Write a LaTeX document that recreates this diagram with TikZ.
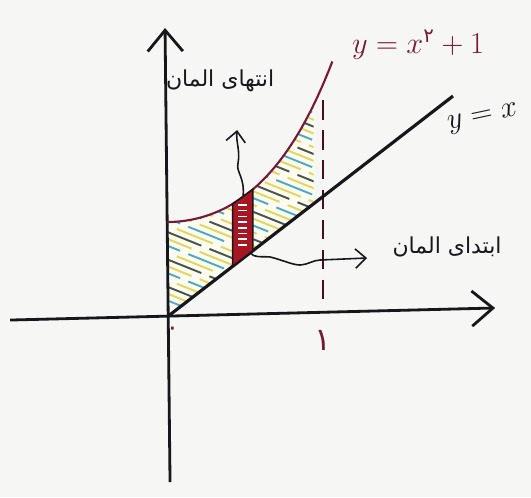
\documentclass[tikz,border=0pt]{standalone}
\usepackage{amsmath}
\usepackage{fontspec}
\usetikzlibrary{arrows.meta, calc}
\newfontfamily\persianfont[Script=Arabic]{DejaVu Sans}
\TeXXeTstate=1
\definecolor{paper}{RGB}{246,246,244}
\definecolor{inkblack}{RGB}{22,22,28}
\definecolor{curvemaroon}{RGB}{118,24,56}
\definecolor{stripred}{RGB}{168,22,36}
\definecolor{hatchyellow}{RGB}{226,214,96}
\definecolor{hatchteal}{RGB}{78,170,192}
\definecolor{hatchgray}{RGB}{72,84,74}

\tikzset{
    declare function={f(\x)=1+\x*\x+0.45*\x^4; g(\x)=1.27*\x;},
    axis/.style={inkblack, line width=1.6pt, -{Straight Barb[length=12pt,width=20pt]}},
    pointer/.style={inkblack, line width=0.9pt, -{Straight Barb[length=6pt,width=11pt]}},
    persian/.style={font=\persianfont\fontsize{12.5}{14}\selectfont, text=inkblack},
    marklabel/.style={font=\persianfont\fontsize{18}{20}\selectfont, text=curvemaroon}
}

\begin{document}
\begin{tikzpicture}[x=3.12cm, y=1.9cm]
    \fill[paper] (-1.071,-1.895) rectangle (2.333,3.337);
    \useasboundingbox (-1.071,-1.895) rectangle (2.333,3.337);

    \coordinate (O) at (0,0);
    \coordinate (xStart) at (-1.006,-0.032);
    \coordinate (xEnd) at (2.103,0.095);
    \coordinate (yStart) at (0.019,-1.737);
    \coordinate (yEnd) at (-0.013,3.042);
    \coordinate (lineEnd) at (1.833,2.326);
    \coordinate (dashTop) at (1,2.28);
    \coordinate (dashBot) at (1,0.09);

    % Hatched area between the curves
    \begin{scope}
        \clip plot[domain=0:0.94, samples=40] (\x,{f(\x)}) -- (0.94,{g(0.94)}) -- (O) -- cycle;
        \fill[hatchyellow!10] (0,0) rectangle (1,3);
        \foreach \k in {0,...,12} {
            \foreach \col [count=\j] in {hatchyellow,hatchteal,hatchyellow,hatchgray} {
                \pgfmathsetmacro\yy{3.2-(\k*4+\j)*0.072}
                \draw[\col, line width=1.1pt, dash pattern=on 22pt off 5pt, dash phase=\j*7pt] (0,\yy) -- ++(1,-0.66);
            }
        }
    \end{scope}

    % Axes
    \draw[axis] (xStart) -- (xEnd);
    \draw[axis] (yStart) -- (yEnd);

    % x = 1
    \draw[curvemaroon!60!black, line width=1.1pt, dash pattern=on 11pt off 6pt] (dashTop) -- (dashBot);

    % y = x and y = x^2 + 1
    \draw[inkblack, line width=1.8pt] (O) -- (lineEnd);
    \draw[curvemaroon, line width=1.2pt] plot[domain=0:1.06, samples=60] (\x,{f(\x)});

    % Element strip
    \filldraw[fill=stripred, draw=inkblack, line width=0.9pt] (0.42,{g(0.42)}) -- (0.42,{f(0.42)}) -- (0.55,{f(0.55)}) -- (0.55,{g(0.55)}) -- cycle;
    \foreach \yy in {0.76,0.82,...,1.2}
        \draw[white, line width=0.9pt] (0.455,\yy) -- (0.515,\yy);
    \coordinate (stripTop) at (0.487,{f(0.487)});
    \coordinate (stripBot) at (0.532,{g(0.532)});
    \coordinate (endTip) at (0.449,1.968);
    \coordinate (startTip) at (1.282,0.621);

    % Pointers to the labels
    \draw[pointer] (stripTop) .. controls (0.50,1.48) and (0.44,1.52) .. (0.455,1.62) .. controls (0.47,1.75) and (0.44,1.85) .. (endTip);
    \draw[pointer] (stripBot) .. controls (0.56,0.62) and (0.60,0.64) .. (0.66,0.632) .. controls (0.74,0.60) and (0.80,0.55) .. (0.853,0.547) .. controls (0.90,0.55) and (0.94,0.60) .. (0.981,0.60) -- (startTip);

    \node[persian] (endLabel) at (0.34,2.49) {\beginR انتهای المان\endR};
    \node[persian] (startLabel) at (1.795,0.737) {\beginR ابتدای المان\endR};

    \node[font=\fontsize{16}{18}\selectfont, text=curvemaroon] (curveLabel) at (1.609,2.863) {$y=x^{\text{\persianfont ۲}}+1$};
    \node[font=\fontsize{18}{20}\selectfont, text=inkblack, rotate=12] (lineLabel) at (2.025,2.09) {$y=x$};

    \node[marklabel, font=\persianfont\fontsize{14}{16}\selectfont] (zeroLabel) at (0.035,-0.15) {۰};
    \node[marklabel] (oneLabel) at (1.0,-0.242) {۱};
\end{tikzpicture}
\end{document}
